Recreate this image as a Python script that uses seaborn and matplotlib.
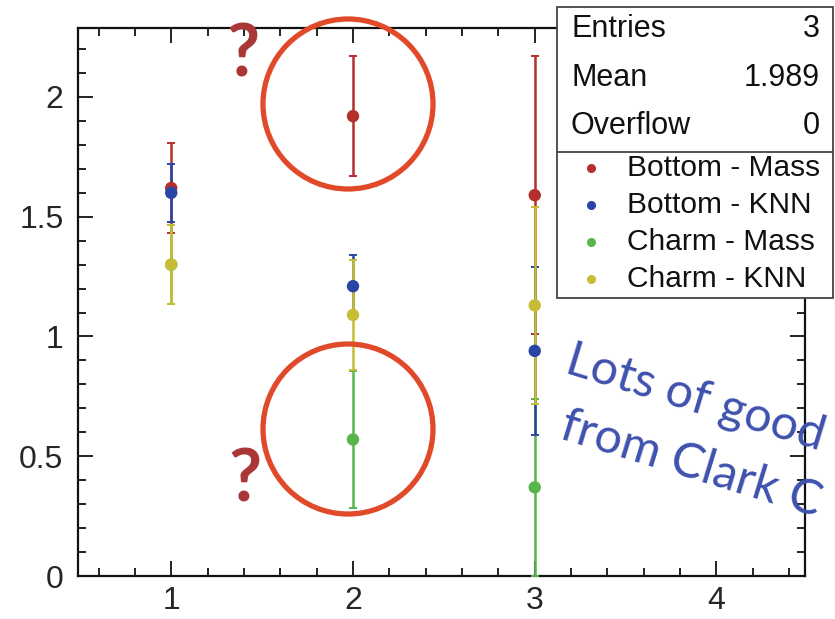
import matplotlib
matplotlib.use("Agg")
import matplotlib.pyplot as plt
import numpy as np
import pandas as pd
import seaborn as sns
from matplotlib.patches import Ellipse, Rectangle
from matplotlib.lines import Line2D
from matplotlib.ticker import FixedLocator, MultipleLocator

# ---- data -------------------------------------------------------------
bins = [1, 2, 3]
series = ["Bottom - Mass", "Bottom - KNN", "Charm - Mass", "Charm - KNN"]
bottom_mass = [1.62, 1.92, 1.59]
bottom_mass_err = [0.186, 0.25, 0.58]
bottom_knn = [1.60, 1.21, 0.94]
bottom_knn_err = [0.12, 0.13, 0.35]
charm_mass = [1.30, 0.57, 0.37]
charm_mass_err = [0.165, 0.285, 0.37]
charm_knn = [1.30, 1.09, 1.13]
charm_knn_err = [0.165, 0.23, 0.41]
colors = ["#b3302d", "#2a45a6", "#58b54c", "#c6bd35"]

x_ticks = [1, 2, 3, 4]
y_ticks = [0, 0.5, 1, 1.5, 2]
y_tick_labels = ["0", "0.5", "1", "1.5", "2"]

stats_labels = ["Entries", "Mean", "Overflow"]
stats_values = ["3", "1.989", "0"]

note_lines = ["Lots of good", "from Clark C"]

values = [bottom_mass, bottom_knn, charm_mass, charm_knn]
errors = [bottom_mass_err, bottom_knn_err, charm_mass_err, charm_knn_err]

df = pd.DataFrame({
    "bin": np.tile(bins, len(series)),
    "value": np.concatenate(values),
    "err": np.concatenate(errors),
    "series": np.repeat(series, len(bins)),
})

# ---- figure -----------------------------------------------------------
sns.set_style("ticks")
plt.rcParams["font.family"] = ["Liberation Sans", "DejaVu Sans"]

W, H = 835, 619
fig = plt.figure(figsize=(W / 100, H / 100), dpi=100)


def fx(px):
    return px / W


def fy(py):
    return 1 - py / H


ax = fig.add_axes([fx(78), fy(576), fx(805) - fx(78), fy(28) - fy(576)])

# error bars, drawn in an order that keeps the overlaps readable
err_order = [0, 2, 1, 3]
for z, i in enumerate(err_order):
    sub = df[df["series"] == series[i]]
    ax.errorbar(sub["bin"], sub["value"], yerr=sub["err"], fmt="none",
                ecolor=colors[i], elinewidth=1.8, capsize=3.2, capthick=1.4,
                zorder=2 + z)

# markers on top
sns.scatterplot(data=df, x="bin", y="value", hue="series", hue_order=series,
                palette=colors, s=80, marker="o", linewidth=0, legend=False,
                ax=ax, zorder=10)

ax.set_xlim(0.487, 4.487)
ax.set_ylim(0, 2.288)
ax.xaxis.set_major_locator(FixedLocator(x_ticks))
ax.xaxis.set_minor_locator(MultipleLocator(0.2))
ax.yaxis.set_major_locator(FixedLocator(y_ticks))
ax.set_yticklabels(y_tick_labels)
ax.set_xticklabels([str(t) for t in x_ticks])
ax.yaxis.set_minor_locator(MultipleLocator(0.1))
ax.set_xlabel("")
ax.set_ylabel("")

ax.tick_params(which="both", direction="in", top=True, right=True,
               color="#111111", width=1.3)
ax.tick_params(which="major", length=11, labelsize=23)
ax.tick_params(which="minor", length=6)
ax.tick_params(axis="y", which="major", pad=10.5)
ax.tick_params(axis="x", which="major", pad=7)
for sp in ax.spines.values():
    sp.set_visible(True)
    sp.set_linewidth(1.6)
    sp.set_color("#111111")

# ---- statistics box with legend ----------------------------------------
box_l, box_r, box_t, box_m, box_b = 557, 833, 7, 152, 298
fig.patches.append(Rectangle((fx(box_l), fy(box_b)), fx(box_r) - fx(box_l),
                             fy(box_t) - fy(box_b), transform=fig.transFigure,
                             facecolor="white", edgecolor="#444444",
                             linewidth=1.3, zorder=20))
fig.lines.append(Line2D([fx(box_l), fx(box_r)], [fy(box_m), fy(box_m)],
                        transform=fig.transFigure, color="#444444",
                        linewidth=1.3, zorder=21))

for lab, val, yy in zip(stats_labels, stats_values, [29, 78, 126]):
    fig.text(fx(571), fy(yy), lab, fontsize=22, ha="left", va="center",
             color="#111111", zorder=22)
    fig.text(fx(820), fy(yy), val, fontsize=22, ha="right", va="center",
             color="#111111", zorder=22)

for lab, col, yy in zip(series, colors, [168, 205, 242, 279]):
    fig.lines.append(Line2D([fx(591)], [fy(yy)], transform=fig.transFigure,
                            marker="o", markersize=5.5, color=col,
                            linestyle="none", zorder=22))
    fig.text(fx(627), fy(yy), lab, fontsize=21.5, ha="left", va="center",
             color="#111111", zorder=22)

# ---- hand-drawn style annotations ------------------------------------
ring = "#e04a2b"
for cx, cy in [(348, 104), (348, 429)]:
    fig.patches.append(Ellipse((fx(cx), fy(cy)), 2 * 85 / W, 2 * 85 / H,
                               transform=fig.transFigure, fill=False,
                               edgecolor=ring, linewidth=3.8, zorder=15))

for qx, qy in [(243, 56), (245, 481)]:
    fig.text(fx(qx), fy(qy), "?", fontsize=52, fontweight="bold",
             family=["Lato", "DejaVu Sans"], color="#a93737",
             ha="center", va="center", zorder=15)

note_color = "#3e51ad"
for txt, (tx, ty) in zip(note_lines, [(563, 372), (558, 438)]):
    fig.text(fx(tx), fy(ty), txt, fontsize=35, rotation=-17,
             rotation_mode="anchor", ha="left", va="baseline",
             family=["Lato", "DejaVu Sans"], color=note_color, zorder=15)

fig.savefig("out.png", dpi=100)
